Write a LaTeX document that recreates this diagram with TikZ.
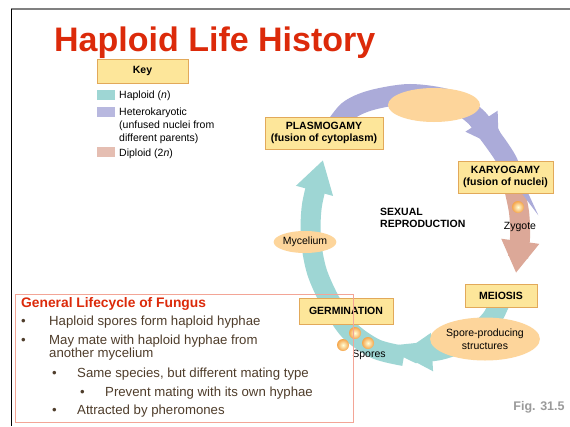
\documentclass[tikz,border=0pt]{standalone}
\usepackage{fontspec}
\setmainfont{Liberation Sans}
\usetikzlibrary{arrows.meta, shapes.geometric, positioning}
\definecolor{hlred}{HTML}{DC2A0A}
\definecolor{hlteal}{HTML}{9ED6D4}
\definecolor{hlpurple}{HTML}{ABABD9}
\definecolor{hlpink}{HTML}{DCA898}
\definecolor{hlbox}{HTML}{FDE69A}
\definecolor{hlboxline}{HTML}{E2A95A}
\definecolor{hlorange}{HTML}{FDD59B}
\definecolor{hlspore}{HTML}{F5A54A}
\definecolor{hlbrown}{HTML}{4F3D2B}
\definecolor{hlgray}{HTML}{9A9A9A}
\definecolor{hlframe}{HTML}{F3A596}

\begin{document}
\begin{tikzpicture}[x=1pt, y=-1pt,
  every node/.style={font=\fontsize{10.5}{12.5}\selectfont, inner sep=0pt},
  stage/.style={rectangle, draw=hlboxline, fill=hlbox, line width=1pt, align=center, font=\fontsize{10.5}{12.5}\selectfont\bfseries},
  blob/.style={ellipse, fill=hlorange, align=center},
  swatch/.style={rectangle, minimum width=18pt, minimum height=10pt},
  band/.style={line width=20pt},
  head/.style={-{Triangle[width=36pt, length=32pt]}},
  sphere/.style={circle, minimum size=12pt, inner color=yellow!15, outer color=hlspore},
  bullet/.style={anchor=west, text=hlbrown, font=\fontsize{13.2}{13}\selectfont},
]
\useasboundingbox (0,0) rectangle (570,426);
\fill[white] (0,0) rectangle (570,426);

% slide frame
\coordinate (frameTL) at (11,9);
\coordinate (frameTR) at (570,9);
\coordinate (frameBL) at (11,426);
\draw[line width=1.8pt, color=gray] (frameTL) -- (frameTR);
\draw[line width=0.8pt] (frameTL) -- (frameBL);

\node[anchor=base west, text=hlred, font=\fontsize{34}{34}\selectfont\bfseries] (title) at (54,51) {Haploid Life History};

% key
\node[stage, minimum width=91pt, minimum height=24pt] (key) at (142.5,71) {Key};
\node[swatch, fill=hlteal] (swhap) at (106,95) {};
\node[swatch, fill=hlpurple!85] (swhet) at (106,112) {};
\node[swatch, fill=hlpink!75] (swdip) at (106,152) {};
\node[anchor=west] (lghap) at (119,96) {Haploid (\textit{n})};
\node[anchor=north west, align=left, font=\fontsize{10.5}{13}\selectfont] (lghet) at (119,107.5) {Heterokaryotic\\(unfused nuclei from\\different parents)};
\node[anchor=west] (lgdip) at (119,154) {Diploid (2\textit{n})};

% ring
\coordinate (hapA) at (404,356);
\coordinate (hapB) at (376,349);
\coordinate (hapC) at (350,331);
\coordinate (hapD) at (331,303);
\coordinate (hapE) at (317,272);
\coordinate (hapF) at (311,240);
\coordinate (hapG) at (312,205);
\coordinate (hapTip) at (323,160);
\coordinate (hetA) at (330,135);
\coordinate (hetB) at (348,111);
\coordinate (hetC) at (372,100);
\coordinate (hetD) at (410,94);
\coordinate (hetE) at (450,100);
\coordinate (hetF) at (477,118);
\coordinate (hetTip) at (499,148);
\coordinate (hetG) at (509,165);
\coordinate (hetH) at (514,186);
\coordinate (dipA) at (514,188);
\coordinate (dipB) at (519,212);
\coordinate (dipC) at (520,238);
\coordinate (dipTip) at (516,273);
\coordinate (sprA) at (504,292);
\coordinate (sprB) at (492,318);
\coordinate (sprC) at (470,338);
\coordinate (sprD) at (440,350);
\coordinate (sprTip) at (400,354);

\draw[band, hlpurple] plot[smooth] coordinates {(hetF) (hetTip) (hetG) (hetH)};
\draw[band, hlteal, head] plot[smooth] coordinates {(hapA) (hapB) (hapC) (hapD) (hapE) (hapF) (hapG) (hapTip)};
\draw[band, hlpink, head] plot[smooth] coordinates {(dipA) (dipB) (dipC) (dipTip)};
\draw[band, hlteal, head] plot[smooth] coordinates {(sprA) (sprB) (sprC) (sprD) (sprTip)};
\draw[band, hlpurple, head] plot[smooth] coordinates {(hetA) (hetB) (hetC) (hetD) (hetE) (hetF) (hetTip)};

% stages
\node[blob, minimum width=92pt, minimum height=34pt] (fused) at (434,105) {};
\node[stage, minimum width=118pt, minimum height=32pt] (plasmo) at (324,133) {PLASMOGAMY\\(fusion of cytoplasm)};
\node[stage, minimum width=95pt, minimum height=32pt] (karyo) at (505.5,177) {KARYOGAMY\\(fusion of nuclei)};
\node[stage, minimum width=72pt, minimum height=23pt] (meio) at (501,295.5) {MEIOSIS};
\node[blob, minimum width=90pt, minimum height=43pt] (sporest) at (485,339) {Spore-producing\\structures};
\node[stage, minimum width=94pt, minimum height=26pt] (germ) at (346,311) {GERMINATION};
\node[blob, minimum width=59pt, minimum height=22pt] (myc) at (305,242) {Mycelium};
\node[anchor=west, align=left, font=\fontsize{10.5}{12}\selectfont\bfseries] (sexual) at (380,218) {SEXUAL\\REPRODUCTION};
\node[sphere] (zyg) at (518,207) {};
\node (zygl) at (520,227) {Zygote};
\node[sphere] (spo1) at (355,333) {};
\node[sphere] (spo2) at (368,343) {};
\node[sphere] (spo3) at (343,345) {};
\node (spol) at (369,355) {Spores};
\node[text=hlgray, font=\fontsize{12.5}{14}\selectfont\bfseries] (fig) at (539,407) {Fig. 31.5};

% lifecycle notes
\node[draw=hlframe, line width=0.8pt, minimum width=338pt, minimum height=128pt] (genbox) at (184,358.5) {};
\node[anchor=west, text=hlred, font=\fontsize{13.8}{15}\selectfont\bfseries] (genhead) at (21,304) {General Lifecycle of Fungus};
\node[bullet] (b1dot) at (21,322) {•};
\node[bullet] (b1) at (49,322) {Haploid spores form haploid hyphae};
\node[bullet] (b2dot) at (21,341) {•};
\node[bullet, align=left] (b2) at (49,347.5) {May mate with haploid hyphae from\\another mycelium};
\node[bullet] (b3dot) at (52,374) {•};
\node[bullet] (b3) at (77,374) {Same species, but different mating type};
\node[bullet] (b4dot) at (80,393) {•};
\node[bullet] (b4) at (105,393) {Prevent mating with its own hyphae};
\node[bullet] (b5dot) at (52,411) {•};
\node[bullet] (b5) at (77,411) {Attracted by pheromones};
\end{tikzpicture}
\end{document}
